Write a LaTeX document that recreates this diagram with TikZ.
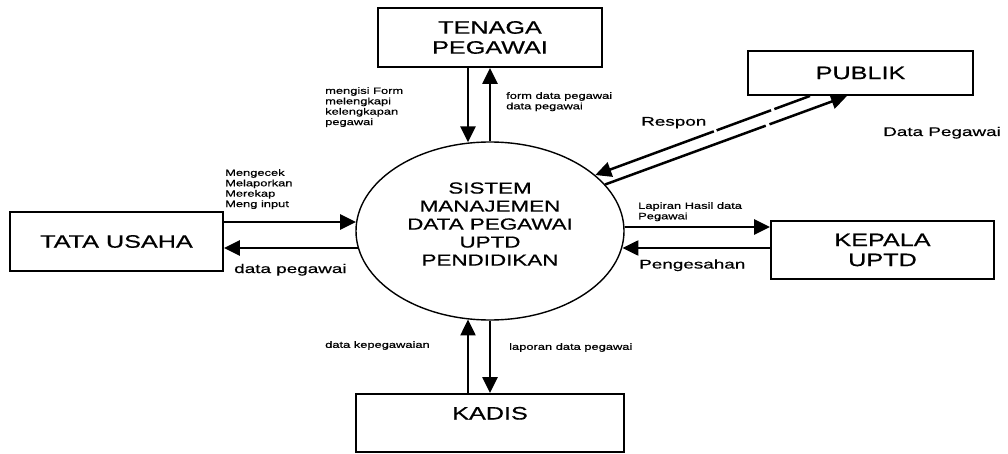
\documentclass[tikz,border=0pt]{standalone}
\usepackage{fontspec}
\setmainfont{Liberation Sans}
\newfontfamily\widefont[FakeStretch=1.4,FakeBold=0.6]{Liberation Sans}
\newfontfamily\widerfont[FakeStretch=1.5,FakeBold=0.6]{Liberation Sans}
\usetikzlibrary{shapes.geometric,arrows.meta}

\begin{document}
\begin{tikzpicture}[x=1pt,y=-1pt,
  entity/.style={draw, line width=1.9pt, rectangle, inner sep=0pt, align=center,
                 font=\widefont\fontsize{18}{20}\selectfont},
  process/.style={draw, line width=1.4pt, ellipse, inner sep=0pt,
                  minimum width=268pt, minimum height=178pt},
  proctext/.style={inner sep=0pt, align=center, font=\widefont\fontsize{16}{18}\selectfont},
  flow/.style={line width=2.5pt, -{Triangle[length=16pt,width=15pt]}},
  small/.style={inner sep=0pt, align=left, anchor=north west,
                font=\widefont\fontsize{9.2}{10.4}\selectfont},
  medium/.style={inner sep=0pt, anchor=base west,
                 font=\widerfont\fontsize{12.6}{14}\selectfont},
]
\useasboundingbox (0,0) rectangle (1008,454);

% external entities
\node[entity, minimum width=224pt, minimum height=59pt] (tenaga) at (490,37.5) {TENAGA\\PEGAWAI};
\node[entity, minimum width=225pt, minimum height=44pt] (publik) at (860.5,73) {PUBLIK};
\node[entity, minimum width=213pt, minimum height=59pt] (tata) at (116.5,241.5) {TATA USAHA};
\node[entity, minimum width=223pt, minimum height=58pt] (kepala) at (882.5,250) {KEPALA\\UPTD};
\node[entity, minimum width=268pt, minimum height=58pt, text height=13pt, text depth=20pt]
  (kadis) at (490,423) {KADIS};

% central process
\node[process] (sys) at (490,231) {};
\node[proctext] (systext) at (490,224) {SISTEM\\MANAJEMEN\\DATA PEGAWAI\\UPTD\\PENDIDIKAN};

% flows with TENAGA PEGAWAI
\draw[flow] ([xshift=-22pt]tenaga.south) -- ([xshift=-22pt]tenaga.south |- sys.103);
\draw[flow] (sys.north) -- (tenaga.south);

% flows with KADIS
\draw[flow] ([xshift=-22pt]kadis.north) -- ([xshift=-22pt]kadis.north |- sys.256);
\draw[flow] (sys.south) -- (kadis.north);

% flows with TATA USAHA
\draw[flow] ([yshift=19.5pt]tata.east) -- ([yshift=19.5pt]tata.east -| sys.176);
\draw[flow] ([yshift=-6.5pt]tata.east -| sys.187) -- ([yshift=-6.5pt]tata.east);

% flows with KEPALA UPTD
\draw[flow] ([yshift=23pt]kepala.west -| sys.2) -- ([yshift=23pt]kepala.west);
\draw[flow] ([yshift=2pt]kepala.west) -- ([yshift=2pt]kepala.west -| sys.353);

% flows with PUBLIK (both lines are broken by small gaps)
\draw[flow, dash pattern=on 38pt off 3.5pt on 58pt off 3pt on 400pt]
  ([xshift=-50.5pt]publik.south) -- (sys.28);
\draw[flow, dash pattern=on 171pt off 4pt on 400pt]
  (sys.22) -- ([xshift=-13.5pt]publik.south);

% flow labels
\node[small] (lbl1) at (325,87) {mengisi Form\\melengkapi\\kelengkapan\\pegawai};
\node[small] (lbl2) at (506,92) {form data pegawai\\data pegawai};
\node[small] (lbl3) at (225,169) {Mengecek\\Melaporkan\\Merekap\\Meng input};
\node[small] (lbl4) at (638,202) {Lapiran Hasil data\\Pegawai};
\node[small] (lbl5) at (325,341) {data kepegawaian};
\node[small] (lbl6) at (509,343) {laporan data pegawai};

\node[medium] (lbl7) at (234,273) {data pegawai};
\node[medium] (lbl8) at (641,125.7) {Respon};
\node[medium] (lbl9) at (883,136) {Data Pegawai};
\node[medium] (lbl10) at (639,268.5) {Pengesahan};
\end{tikzpicture}
\end{document}
